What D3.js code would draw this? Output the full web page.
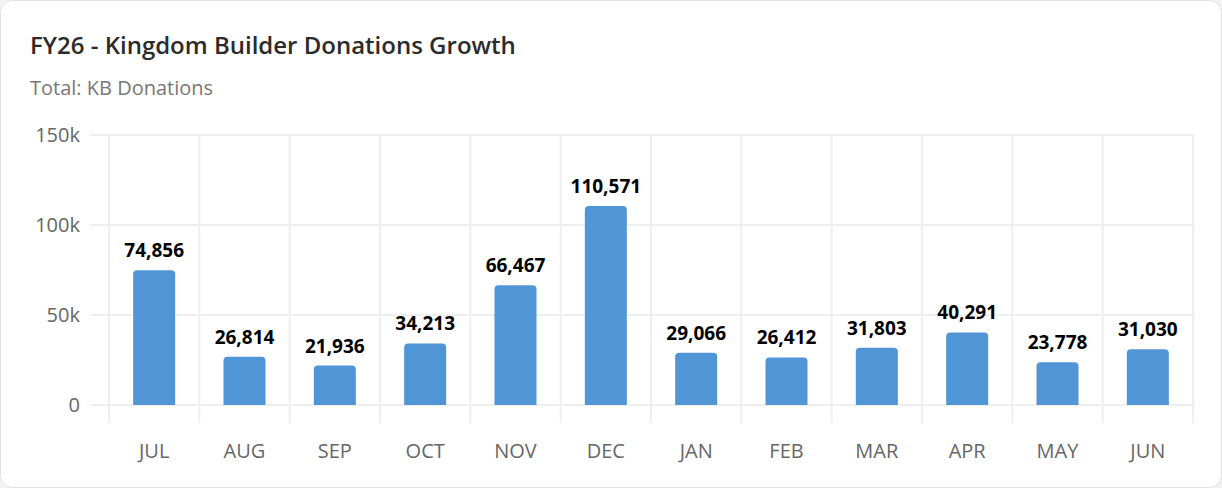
<!DOCTYPE html>
<html><head><meta charset="utf-8">
<script src="https://cdn.jsdelivr.net/npm/d3@7"></script>
<style>
body{margin:0;background:#f3f3f3;font-family:"Open Sans","Liberation Sans",sans-serif;}
</style></head>
<body><div id="chart"></div>
<script>
const months = ["JUL","AUG","SEP","OCT","NOV","DEC","JAN","FEB","MAR","APR","MAY","JUN"];
const donations = [74856,26814,21936,34213,66467,110571,29066,26412,31803,40291,23778,31030];
const yTicks = [0,50000,100000,150000];

const width = 1222, height = 488;
const svg = d3.select("#chart").append("svg").attr("width", width).attr("height", height);

svg.append("rect").attr("x",0.5).attr("y",0.5).attr("width",width-1).attr("height",height-1)
    .attr("rx",12).attr("fill","#fff").attr("stroke","#e2e2e2");

svg.append("text").attr("x",30).attr("y",54).attr("font-size","24px").attr("font-weight","600")
    .attr("fill","#2b2b2b").text("FY26 - Kingdom Builder Donations Growth");
svg.append("text").attr("x",30).attr("y",95).attr("font-size","20px")
    .attr("fill","#777").text("Total: KB Donations");

const x = d3.scaleBand().domain(months).range([109,1193]);
const y = d3.scaleLinear().domain([0,150000]).range([405,135]);

// grid
svg.append("g").selectAll("line").data(yTicks).join("line")
    .attr("x1",90).attr("x2",1195).attr("y1",d=>y(d)).attr("y2",d=>y(d))
    .attr("stroke","#efefef").attr("stroke-width",2);
svg.append("g").selectAll("line").data(months.concat(["end"])).join("line")
    .attr("x1",(d,i)=>x.range()[0]+i*x.bandwidth()).attr("x2",(d,i)=>x.range()[0]+i*x.bandwidth())
    .attr("y1",135).attr("y2",423).attr("stroke","#efefef").attr("stroke-width",2);

svg.append("g").selectAll("text").data(yTicks).join("text")
    .attr("x",80).attr("y",d=>y(d)+7).attr("text-anchor","end").attr("font-size","20px")
    .attr("fill","#666").text(d=>d===0?"0":d/1000+"k");
svg.append("g").selectAll("text").data(months).join("text")
    .attr("x",d=>x(d)+x.bandwidth()/2).attr("y",458).attr("text-anchor","middle")
    .attr("font-size","20px").attr("fill","#666").text(d=>d);

const bw = 42, r = 4;
svg.append("g").selectAll("path").data(donations).join("path")
    .attr("fill","#5096d7")
    .attr("d",(d,i)=>{
        const x0 = x(months[i])+x.bandwidth()/2-bw/2, y0 = y(d), y1 = y(0);
        return `M${x0},${y1}V${y0+r}Q${x0},${y0} ${x0+r},${y0}H${x0+bw-r}Q${x0+bw},${y0} ${x0+bw},${y0+r}V${y1}Z`;
    });
svg.append("g").selectAll("text").data(donations).join("text")
    .attr("x",(d,i)=>x(months[i])+x.bandwidth()/2).attr("y",d=>y(d)-13)
    .attr("text-anchor","middle").attr("font-size","19px").attr("font-weight","bold")
    .attr("fill","#000").text(d=>d3.format(",")(d));
</script></body></html>
